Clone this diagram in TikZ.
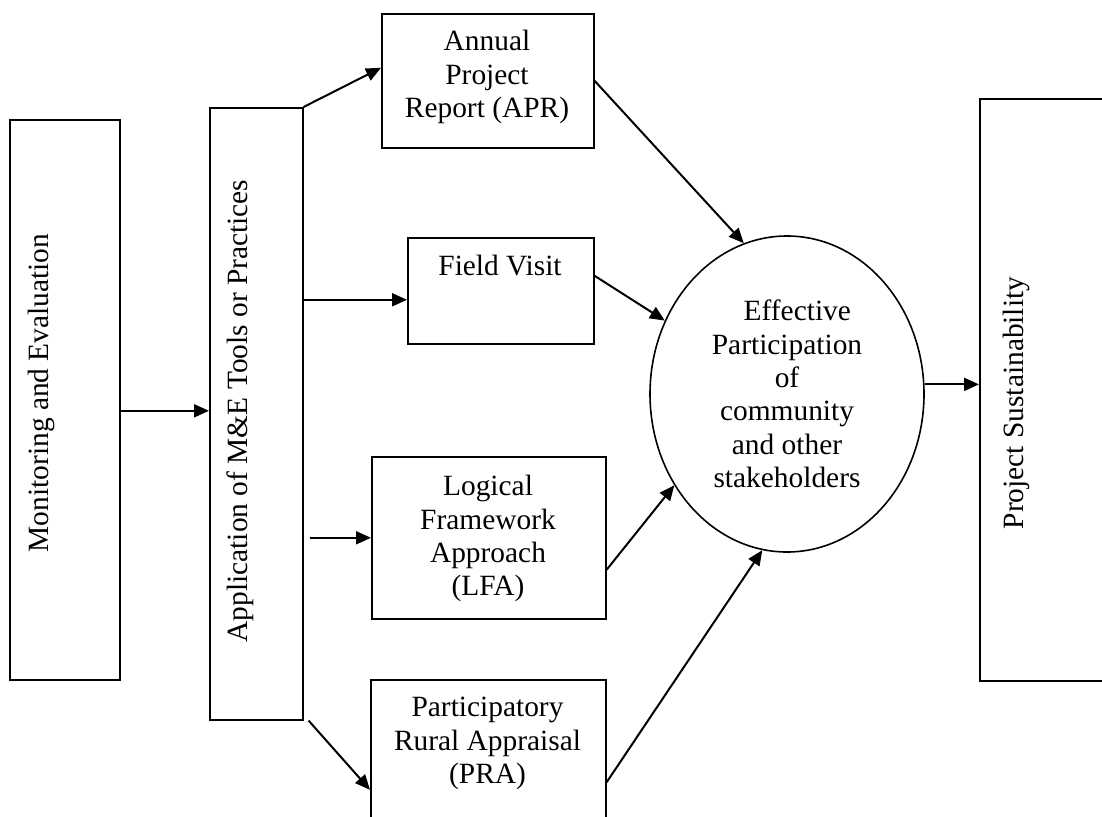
\documentclass[tikz,border=0pt]{standalone}
\usepackage{fontspec}
\setmainfont{Liberation Serif}
\usetikzlibrary{arrows.meta,shapes.geometric,calc}
\begin{document}
\begin{tikzpicture}[x=1pt,y=-1pt,
  box/.style={draw, line width=1.6pt, inner sep=0pt, anchor=north west},
  txt/.style={font=\fontsize{29.4}{33.4}\selectfont, inner sep=0pt, align=center},
  arr/.style={line width=2pt, -{Triangle[length=15pt,width=13pt]}},
  plain/.style={line width=2pt}]
\path[use as bounding box] (0,0) rectangle (1102,816);
\clip (0,0) rectangle (1102,816);
% boxes
\node[box, minimum width=110pt, minimum height=560pt] (me) at (9,119) {};
\node[box, minimum width=93pt, minimum height=612pt] (app) at (209,107) {};
\node[box, minimum width=212pt, minimum height=134pt] (apr) at (381,13) {};
\node[box, minimum width=186pt, minimum height=106pt] (fv) at (407,237) {};
\node[box, minimum width=234pt, minimum height=162pt] (lfa) at (371,456) {};
\node[box, minimum width=235pt, minimum height=160pt] (pra) at (370,679) {};
\node[box, minimum width=160pt, minimum height=582pt] (ps) at (979,98) {};
\node[ellipse, draw, line width=1.6pt, minimum width=274pt, minimum height=316pt, inner sep=0pt, txt] (ell) at (787,394)
  {\hspace*{0.7em}Effective\\Participation\\of\\community\\and other\\stakeholders};
% texts
\node[txt, rotate=90] (metxt) at (41,393) {Monitoring and Evaluation};
\node[txt, rotate=90] (apptxt) at (240,411) {Application of M\&E Tools or Practices};
\node[txt, rotate=90] (pstxt) at (1016,403) {Project Sustainability};
\node[txt, anchor=north] (aprtxt) at (487,30) {Annual\\Project\\Report (APR)};
\node[txt, anchor=base] (fvtxt) at (500,275) {Field Visit};
\node[txt, anchor=north] (lfatxt) at (488,475) {Logical\\Framework\\Approach\\(LFA)};
\node[txt, anchor=north] (pratxt) at (487.5,697) {Participatory\\Rural Appraisal\\(PRA)};
% connectors
\coordinate (mein) at ([yshift=-11pt]me.east);
\draw[arr] (mein) -- (app.west |- mein);
\draw[arr] (app.north east) -- ([yshift=13pt]apr.west);
\coordinate (fvin) at ([yshift=-9pt]fv.west);
\draw[arr] (app.east |- fvin) -- (fvin);
\draw[arr] ([xshift=6pt]app.east |- lfa.west) -- (lfa.west);
\draw[arr] ([xshift=5pt]app.south east) -- ([yshift=-30pt]pra.west);
\draw[arr] (apr.east) -- (ell.106.7);
\draw[arr] ([yshift=15pt]fv.east) -- (ell.149.9);
\draw[arr] ([yshift=-32pt]lfa.east) -- (ell.219.7);
\draw[arr] ([yshift=-22.5pt]pra.east) -- (ell.261);
\draw[arr] (ell.4.6) -- (ps.west |- ell.4.6);
\end{tikzpicture}
\end{document}
